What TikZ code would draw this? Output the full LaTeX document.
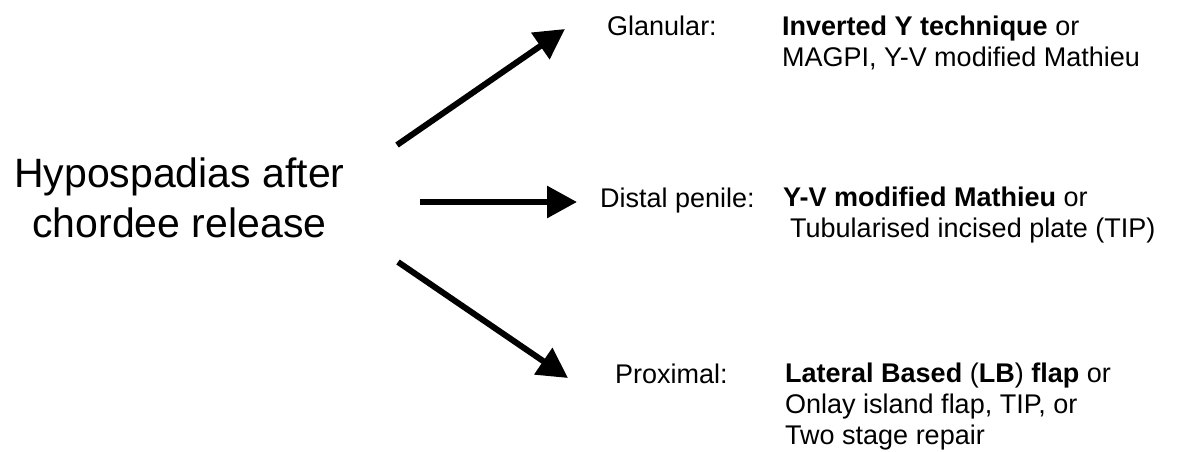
\documentclass[tikz,border=0pt]{standalone}
\usepackage{fontspec}
\setmainfont{Liberation Sans}
\usetikzlibrary{arrows.meta}
\tikzset{
  bigarrow/.style={line width=6pt,-{Triangle[length=30pt,width=31pt]}},
  maintext/.style={inner sep=0pt,align=center,font=\fontsize{41}{50}\selectfont},
  grade/.style={inner sep=0pt,anchor=base west,font=\fontsize{27}{31}\selectfont},
  repair/.style={inner sep=0pt,anchor=north west,align=left,font=\fontsize{27}{31}\selectfont}
}
\begin{document}
\begin{tikzpicture}[x=1pt,y=-1pt]
\useasboundingbox (0,0) rectangle (1177,452);
% Starting point
\node[maintext,anchor=north west] (root) at (14,158) {Hypospadias after\\chordee release};
% Grades
\node[grade] (glanular) at (607,36) {Glanular:};
\node[grade] (distal) at (600,207) {Distal penile:};
\node[grade] (proximal) at (615,383) {Proximal:};
% Repairs for each grade
\node[repair] (glanrep) at (782,16) {\textbf{Inverted Y technique} or\\MAGPI, Y-V modified Mathieu};
\node[repair] (distrep) at (783,187) {\textbf{Y-V modified Mathieu} or\\\hspace*{7pt}Tubularised incised plate (TIP)};
\node[repair] (proxrep) at (785,363) {\textbf{Lateral Based} (\textbf{LB}) \textbf{flap} or\\Onlay island flap, TIP, or\\Two stage repair};
% Arrow ends
\coordinate (uptail) at (397,145);
\coordinate (uphead) at (565,29);
\coordinate (midtail) at (420,202);
\coordinate (midhead) at (577,202);
\coordinate (downtail) at (398,262);
\coordinate (downhead) at (568,378);
% Draw arrows
\draw[bigarrow] (uptail) -- (uphead);
\draw[bigarrow] (midtail) -- (midhead);
\draw[bigarrow] (downtail) -- (downhead);
\end{tikzpicture}
\end{document}
